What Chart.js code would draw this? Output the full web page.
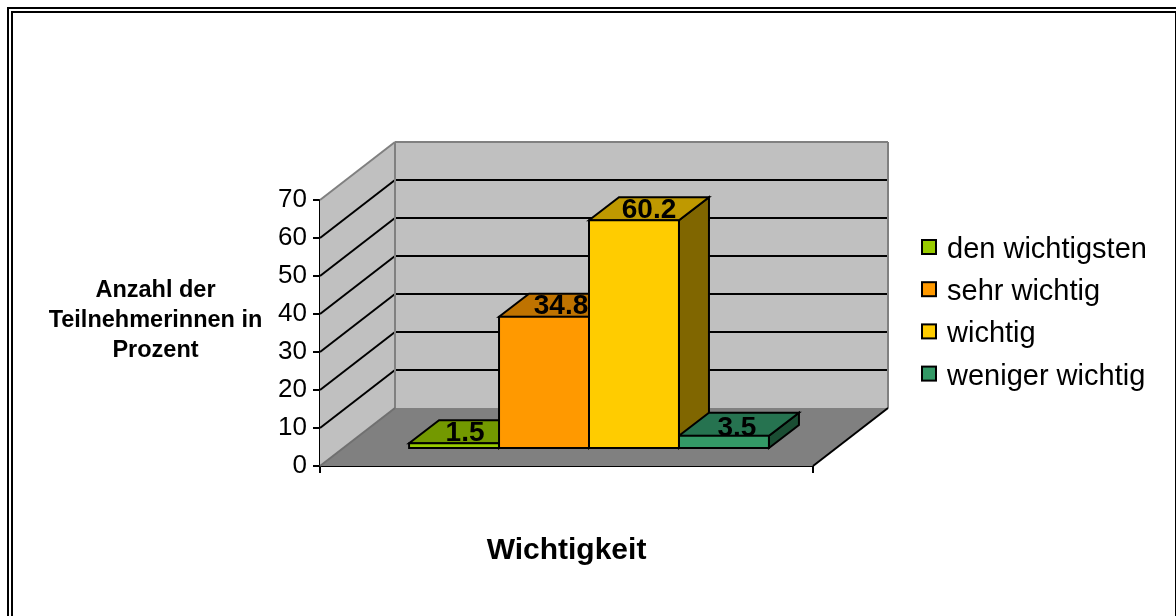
<!DOCTYPE html>
<html lang="de">
<head>
    <meta charset="UTF-8">
    <title>Wichtigkeit</title>
    <style>
        html, body { margin: 0; padding: 0; background: #fff; overflow: hidden; }
        #wrap { position: relative; width: 1176px; height: 616px; }
    </style>
    <script src="https://cdn.jsdelivr.net/npm/chart.js"></script>
</head>
<body>
    <div id="wrap"><canvas id="chart" width="1176" height="616"></canvas></div>
    <script>
        const categories = ["Wichtigkeit"];
        const seriesNames = ["den wichtigsten", "sehr wichtig", "wichtig", "weniger wichtig"];
        const seriesValues = [1.5, 34.8, 60.2, 3.5];
        const seriesColors = ["#99CC00", "#FF9900", "#FFCC00", "#339966"];
        const topColors = ["#739900", "#BF7300", "#BF9900", "#267350"];
        const sideColors = ["#4D6600", "#804D00", "#806600", "#1A4D33"];
        const yTicks = [0, 10, 20, 30, 40, 50, 60, 70];
        const yTitleLines = ["Anzahl der", "Teilnehmerinnen in", "Prozent"];
        const xTitle = "Wichtigkeit";

        const FONT = '"Liberation Sans", Arial, sans-serif';
        const WALL_DX = 75, WALL_DY = 58;   // tiefe der wande
        const BAR_DX = 22.5, BAR_DY = 17;   // abstand balken zur vorderkante
        const TOP_DX = 30, TOP_DY = 23;     // tiefe der balken
        const labelNudgeX = [-4, 2, 0, -2]; // beschriftung liegt im original nicht ganz mittig
        const labelNudgeY = [0, 0, 0, 3];

        function poly(ctx, pts, fill, stroke, lw) {
            ctx.beginPath();
            pts.forEach((p, i) => i ? ctx.lineTo(p[0], p[1]) : ctx.moveTo(p[0], p[1]));
            ctx.closePath();
            ctx.fillStyle = fill;
            ctx.fill();
            if (stroke) {
                ctx.strokeStyle = stroke;
                ctx.lineWidth = lw;
                ctx.stroke();
            }
        }

        function line(ctx, x1, y1, x2, y2, color, lw) {
            ctx.beginPath();
            ctx.moveTo(x1, y1);
            ctx.lineTo(x2, y2);
            ctx.strokeStyle = color;
            ctx.lineWidth = lw;
            ctx.stroke();
        }

        // doppelter rahmen, unten offen
        const framePlugin = {
            id: "frame",
            beforeDraw(chart) {
                const ctx = chart.ctx;
                ctx.save();
                ctx.fillStyle = "#000";
                ctx.fillRect(7, 7, 1169, 2);
                ctx.fillRect(7, 7, 2, 609);
                ctx.fillRect(11, 11, 1165, 2);
                ctx.fillRect(11, 11, 2, 605);
                ctx.fillRect(1175, 11, 1, 605);
                ctx.restore();
            }
        };

        const box3dPlugin = {
            id: "box3d",
            beforeDatasetsDraw(chart) {
                const ctx = chart.ctx;
                const x = chart.scales.x, y = chart.scales.y;
                const l = x.left, r = x.right;
                const y0 = y.getPixelForValue(0), yMax = y.getPixelForValue(70);
                const bl = l + WALL_DX, br = r + WALL_DX;

                ctx.save();
                poly(ctx, [[bl, y0 - WALL_DY], [br, y0 - WALL_DY], [r, y0], [l, y0]], "#808080");
                poly(ctx, [[l, y0], [l, yMax], [bl, yMax - WALL_DY], [bl, y0 - WALL_DY]], "#C0C0C0");
                poly(ctx, [[bl, yMax - WALL_DY], [br, yMax - WALL_DY], [br, y0 - WALL_DY], [bl, y0 - WALL_DY]], "#C0C0C0");

                yTicks.forEach(t => {
                    if (t === 0 || t === 70) return;
                    const py = y.getPixelForValue(t);
                    line(ctx, l, py, bl, py - WALL_DY, "#000", 2);
                    line(ctx, bl, py - WALL_DY, br, py - WALL_DY, "#000", 2);
                });

                line(ctx, l, yMax, bl, yMax - WALL_DY, "#808080", 2);
                line(ctx, bl, yMax - WALL_DY, br, yMax - WALL_DY, "#808080", 2);
                line(ctx, br, yMax - WALL_DY, br, y0 - WALL_DY, "#808080", 2);
                line(ctx, bl, yMax - WALL_DY, bl, y0 - WALL_DY, "#808080", 2);
                line(ctx, l, y0, bl, y0 - WALL_DY, "#707070", 2);
                line(ctx, r, y0, br, y0 - WALL_DY, "#000", 2);

                // seiten und deckel der balken, von links nach rechts
                seriesValues.forEach((v, i) => {
                    const el = chart.getDatasetMeta(i).data[0];
                    const left = el.x - el.width / 2 + BAR_DX, right = el.x + el.width / 2 + BAR_DX;
                    const top = el.y - BAR_DY, base = el.base - BAR_DY;
                    poly(ctx, [[right, top], [right + TOP_DX, top - TOP_DY], [right + TOP_DX, base - TOP_DY], [right, base]], sideColors[i], "#000", 2);
                    poly(ctx, [[left, top], [left + TOP_DX, top - TOP_DY], [right + TOP_DX, top - TOP_DY], [right, top]], topColors[i], "#000", 2);
                });
                ctx.restore();

                // die vorderseiten zeichnet Chart.js selbst, nur nach hinten versetzt
                ctx.save();
                ctx.translate(BAR_DX, -BAR_DY);
            },
            afterDatasetsDraw(chart) {
                const ctx = chart.ctx;
                ctx.restore();

                ctx.save();
                ctx.fillStyle = "#000";
                ctx.font = "bold 28px " + FONT;
                ctx.textAlign = "center";
                ctx.textBaseline = "middle";
                seriesValues.forEach((v, i) => {
                    const el = chart.getDatasetMeta(i).data[0];
                    ctx.fillText(v.toFixed(1), el.x + BAR_DX + 15 + labelNudgeX[i], el.y - BAR_DY - 10 + labelNudgeY[i]);
                });
                ctx.restore();
            },
            afterDraw(chart) {
                const ctx = chart.ctx;
                ctx.save();
                ctx.fillStyle = "#000";

                // y-titel waagerecht
                ctx.font = "bold 23.5px " + FONT;
                ctx.textAlign = "center";
                ctx.textBaseline = "alphabetic";
                yTitleLines.forEach((t, i) => ctx.fillText(t, 155.5, 297 + i * 30));

                // legende
                ctx.font = "29px " + FONT;
                ctx.textAlign = "left";
                seriesNames.forEach((name, i) => {
                    const cy = 247 + i * 42.2;
                    ctx.fillStyle = seriesColors[i];
                    ctx.fillRect(922, cy - 7, 14, 14);
                    ctx.strokeStyle = "#000";
                    ctx.lineWidth = 2;
                    ctx.strokeRect(922, cy - 7, 14, 14);
                    ctx.fillStyle = "#000";
                    ctx.fillText(name, 947, cy + 11);
                });
                ctx.restore();
            }
        };

        new Chart(document.getElementById("chart"), {
            type: "bar",
            data: {
                labels: categories,
                datasets: seriesNames.map((name, i) => ({
                    label: name,
                    data: [seriesValues[i]],
                    backgroundColor: seriesColors[i],
                    borderColor: "#000",
                    borderWidth: 2,
                    borderSkipped: false,
                    inflateAmount: 1,
                    categoryPercentage: 0.73,
                    barPercentage: 1
                }))
            },
            options: {
                responsive: false,
                animation: false,
                layout: { padding: { top: 200, right: 363, left: 0, bottom: 0 } },
                plugins: { legend: { display: false }, tooltip: { enabled: false } },
                scales: {
                    x: {
                        afterFit(s) { s.height = 150; },
                        ticks: { display: false },
                        grid: { drawOnChartArea: false, color: "#000", lineWidth: 2, tickLength: 7 },
                        border: { color: "#000", width: 2 },
                        title: {
                            display: true,
                            text: xTitle,
                            color: "#000",
                            font: { family: FONT, size: 30, weight: "bold" },
                            padding: { top: 0, bottom: 47 }
                        }
                    },
                    y: {
                        min: 0,
                        max: 70,
                        afterFit(s) { s.width = 320; },
                        afterBuildTicks(s) { s.ticks = yTicks.map(v => ({ value: v })); },
                        ticks: { color: "#000", padding: 6, font: { family: FONT, size: 26 } },
                        grid: { drawOnChartArea: false, color: "#000", lineWidth: 2, tickLength: 7 },
                        border: { color: "#000", width: 2 }
                    }
                }
            },
            plugins: [framePlugin, box3dPlugin]
        });
    </script>
</body>
</html>
